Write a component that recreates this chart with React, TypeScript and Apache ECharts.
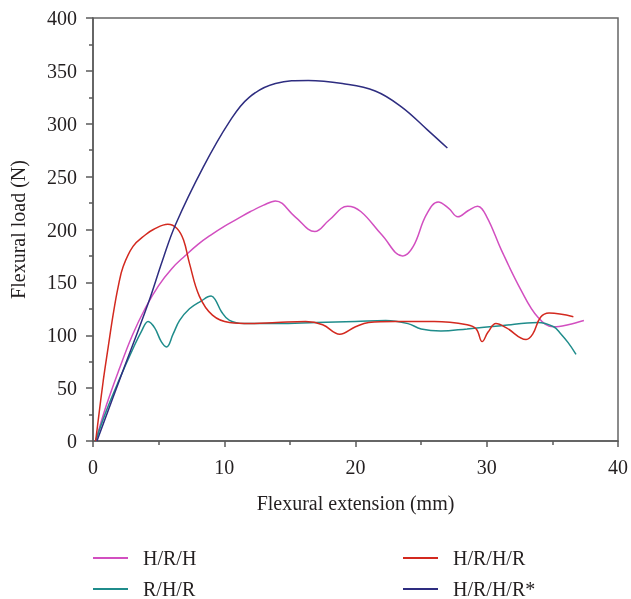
import React, { useEffect, useRef } from "react";
import * as echarts from "echarts";

const seriesNames = ["H/R/H", "R/H/R", "H/R/H/R", "H/R/H/R*"];

const hrh: [number, number][] = [
  [0.2, 0], [1, 33], [2, 68], [3, 100], [4, 126], [5, 147], [6, 163], [7, 175],
  [8, 186], [9, 195], [10, 203], [11, 210], [12, 217], [13, 223], [13.9, 227],
  [15.4, 212], [16.9, 198], [18, 209], [19.4, 222], [20.4, 217],
  [22, 195], [23.6, 175], [24.4, 184], [25.4, 214], [26.3, 226], [27.1, 220],
  [27.8, 212], [28.6, 218], [29.3, 222], [30, 212], [31.1, 181], [32.6, 143],
  [33.9, 117], [35.1, 108], [36.2, 110], [37.4, 114],
];

const rhr: [number, number][] = [
  [0.2, 0], [1, 28], [2, 58], [3, 86], [3.7, 104], [4.2, 113], [4.7, 107],
  [5.2, 94], [5.6, 89], [6.1, 101], [6.6, 114], [7.35, 125], [8.2, 132],
  [9.0, 137], [9.3, 134], [9.8, 122], [10.4, 114], [11.5, 111], [14, 111],
  [17, 112], [20, 113], [22.3, 114], [24, 111], [25, 106], [26.5, 104],
  [28.5, 106], [31.1, 109], [33.9, 112], [35.1, 108], [35.6, 102], [36.2, 93],
  [36.8, 82],
];

const hrhr: [number, number][] = [
  [0.2, 0], [0.78, 57], [1.16, 89], [1.54, 120], [1.92, 146], [2.3, 165],
  [3.05, 184], [4.0, 195], [4.6, 200], [5.7, 205], [6.4, 201], [6.9, 190],
  [7.35, 168], [8.1, 137], [9.1, 119], [10.4, 112], [12, 111], [14, 112],
  [16.2, 113], [17.5, 110], [18.8, 101], [20, 108], [21, 112], [23, 113],
  [26, 113], [28.5, 110], [29.2, 106], [29.65, 94], [30.1, 103], [30.7, 111],
  [31.5, 107], [33, 96], [33.5, 101], [34.1, 117], [34.75, 121], [36.6, 117.5],
];

const hrhrStar: [number, number][] = [
  [0.3, 0], [2, 57], [4.2, 130], [5.3, 171], [6.3, 205], [8.4, 259],
  [10.4, 302], [11.9, 325], [13.9, 338], [16.4, 341], [19, 338],
  [21.5, 331], [23.5, 316], [25.5, 294], [27, 277],
];

const colors = ["#d24fc0", "#1f8c8b", "#d3291f", "#2e2d80"];
const xTicks = { min: 0, max: 40, interval: 10 };
const yTicks = { min: 0, max: 400, interval: 50 };

const font = "'Liberation Serif', 'Times New Roman', serif";
const textColor = "#231f20";
const axisColor = "#5a5a5a";

export default function App() {
  const ref = useRef<HTMLDivElement>(null);
  useEffect(() => {
    if (!ref.current) return;
    document.body.style.margin = "0";
    document.body.style.overflow = "hidden";
    const chart = echarts.init(ref.current, undefined, { renderer: "svg" });
    const datasets = [hrh, rhr, hrhr, hrhrStar];
    const legendCommon = {
      orient: "vertical" as const,
      padding: 0,
      itemWidth: 35,
      itemHeight: 2,
      itemGap: 11,
      icon: "rect",
      textStyle: {
        fontFamily: font,
        fontSize: 20,
        color: textColor,
        padding: [0, 0, 0, 10],
      },
    };
    chart.setOption({
      animation: false,
      color: colors,
      grid: {
        left: 93,
        right: 10,
        top: 18,
        bottom: 158,
        show: true,
        borderColor: "#666",
        borderWidth: 1.5,
        containLabel: false,
      },
      legend: [
        { ...legendCommon, data: [seriesNames[0], seriesNames[1]], left: 93, top: 548 },
        { ...legendCommon, data: [seriesNames[2], seriesNames[3]], left: 403, top: 548 },
      ],
      xAxis: {
        type: "value",
        ...xTicks,
        name: "Flexural extension (mm)",
        nameLocation: "middle",
        nameGap: 52,
        nameTextStyle: { fontFamily: font, fontSize: 20, color: textColor },
        axisLine: { show: true, lineStyle: { color: axisColor, width: 1.5 } },
        axisTick: { show: true, length: 6, lineStyle: { color: axisColor, width: 1.5 } },
        minorTick: { show: true, splitNumber: 2, length: 4, lineStyle: { color: axisColor, width: 1.5 } },
        axisLabel: { fontFamily: font, fontSize: 20, color: textColor, margin: 16 },
        splitLine: { show: false },
      },
      yAxis: {
        type: "value",
        ...yTicks,
        name: "Flexural load (N)",
        nameLocation: "middle",
        nameGap: 65,
        nameTextStyle: { fontFamily: font, fontSize: 20, color: textColor },
        axisLine: { show: true, lineStyle: { color: axisColor, width: 1.5 } },
        axisTick: { show: true, length: 7, lineStyle: { color: axisColor, width: 1.5 } },
        minorTick: { show: true, splitNumber: 2, length: 4, lineStyle: { color: axisColor, width: 1.5 } },
        axisLabel: { fontFamily: font, fontSize: 20, color: textColor, margin: 16 },
        splitLine: { show: false },
      },
      series: datasets.map((d, i) => ({
        name: seriesNames[i],
        type: "line",
        data: d,
        smooth: 0.4,
        showSymbol: false,
        symbol: "none",
        lineStyle: { width: 1.5, color: colors[i] },
        itemStyle: { color: colors[i] },
      })),
    });
    return () => chart.dispose();
  }, []);
  return (
    <div
      ref={ref}
      style={{ position: "fixed", left: 0, top: 0, width: 631, height: 599 }}
    />
  );
}
